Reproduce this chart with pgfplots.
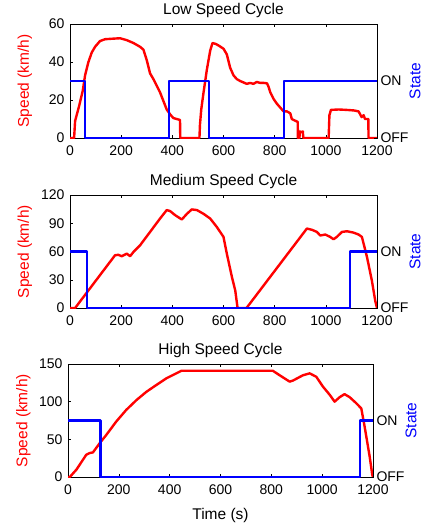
\documentclass[border=0pt]{standalone}
\usepackage{fontspec}
\setmainfont{Liberation Sans}
\usepackage{pgfplots}
\pgfplotsset{compat=1.18}

\definecolor{mred}{rgb}{1,0,0}
\definecolor{mblue}{rgb}{0,0,1}

\pgfplotsset{
  common/.style={
    scale only axis, width=307pt, height=114pt,
    xmin=0, xmax=1200,
    tick align=inside, major tick length=3pt,
    every tick/.style={black, line width=0.5pt},
    axis line style={line width=0.5pt},
    tick label style={font=\fontsize{14}{16}\selectfont},
    /pgf/number format/assume math mode=true,
    /pgf/number format/1000 sep={},
  },
  speed/.style={
    common,
    xtick={0,200,...,1200}, xtick pos=both, ytick pos=left,
    xticklabel style={yshift=-4pt},
    yticklabel style={xshift=-2pt},
    title style={font=\fontsize{15.5}{18}\selectfont, at={(0.5,1)}, anchor=south, yshift=-3pt},
    ylabel={Speed (km/h)},
    ylabel style={font=\fontsize{15.5}{18}\selectfont, color=mred,
      at={(axis description cs:-0.147,0.5)}, anchor=center},
  },
  state/.style={
    common,
    ymin=0, ymax=2,
    axis y line*=right, axis x line=none,
    ytick={0,1}, yticklabels={OFF,ON},
    yticklabel style={xshift=0pt},
    ylabel={State},
    ylabel style={font=\fontsize{15.5}{18}\selectfont, color=mblue,
      at={(axis description cs:1.124,0.5)}, anchor=center},
  },
  red/.style={mred, line width=2.4pt, line join=round},
  blue/.style={mblue, line width=2.2pt, line join=round},
}

\begin{document}
\begin{tikzpicture}
\path[use as bounding box] (0,0) rectangle (423pt,-527pt);

% Low speed cycle
\begin{axis}[speed, at={(70pt,-138pt)}, anchor=south west,
  title={Low Speed Cycle}, ymin=0, ymax=60, ytick={0,20,40,60}]
\addplot[red] coordinates {
(0,0)(16,0)(20,9)(24,11)(36,17)(50,25)(59,33)(72,40)(85,45)(98,48)(117,51)
(137,52)(170,52.3)(196,52.5)(222,51.5)(248,50)(274,48)(287,46.5)(300,41)
(313,34)(326,31)(352,24)(378,15)(391,12.5)(404,10.5)(430,9.5)(431,0)
(506,0)(508,7)(513,15)(522,24)(535,36)(548,46)(557,50)(570,49.5)(583,48.5)
(600,47)(613,44)(626,37)(639,33)(652,31)(665,30)(691,28.5)(704,29)(717,28.5)
(730,29.5)(743,29)(757,29)(770,28.8)(776,27)(783,24)(796,20.5)(809,18)
(822,16)(835,14)(848,14)(861,13)(867,10)(874,9.5)(882,9)(890,8.5)(891,0)
(897,0)(898,3.5)(905,3)(910,3.5)(912,0)
(1011,0)(1014,12)(1020,14.8)(1050,15)(1080,14.8)(1110,14.5)(1128,14)
(1140,11)(1148,12)(1153,10)(1166,10)(1167,0)(1200,0)};
\end{axis}
\begin{axis}[state, at={(70pt,-138pt)}, anchor=south west]
\addplot[blue] coordinates {
(0,1)(59,1)(59,0)(387,0)(387,1)(544,1)(544,0)(835,0)(835,1)(1200,1)};
\end{axis}

% Medium speed cycle
\begin{axis}[speed, at={(70pt,-308pt)}, anchor=south west, height=113pt,
  title={Medium Speed Cycle}, ymin=0, ymax=120, ytick={0,30,60,90,120}]
\addplot[red] coordinates {
(0,0)(20,0)(176,56)(189,56.5)(202,55)(222,57.7)(235,55)(248,59.5)(274,66.6)
(313,80.8)(352,95)(378,104)(391,103)(411,98.6)(437,94)(457,100)(476,104.7)
(496,104)(522,100)(548,95)(574,86)(600,75.5)(613,57.7)(633,32.8)(646,18.5)
(655,0)(690,0)(926,84.4)(946,83)(965,80.8)(978,77)(998,78)(1017,75.5)
(1030,73)(1043,75.5)(1063,80.8)(1083,81.5)(1109,80)(1128,78)(1141,75.5)
(1161,54)(1180,29)(1193,7.8)(1200,0)};
\end{axis}
\begin{axis}[state, at={(70pt,-308pt)}, anchor=south west, height=113pt]
\addplot[blue] coordinates {
(0,1)(65,1)(65,0)(1093,0)(1093,1)(1200,1)};
\end{axis}

% High speed cycle
\begin{axis}[speed, at={(68pt,-477pt)}, anchor=south west, width=305pt, height=113pt,
  title={High Speed Cycle}, ymin=0, ymax=150, ytick={0,50,100,150},
  xlabel={Time (s)},
  xlabel style={font=\fontsize{15.5}{18}\selectfont,
    at={(axis description cs:0.5,0)}, anchor=center, yshift=-38pt},
  ylabel style={at={(axis description cs:-0.146,0.5)}}]
\addplot[red] coordinates {
(0,0)(7,0)(33,9.7)(59,23)(72,29.6)(85,31.8)(98,32.6)(125,45)(151,56)
(190,73.7)(229,89)(269,102)(308,113)(347,122)(387,131)(426,137.6)(446,141)
(806,141)(833,135)(872,126.6)(885,128)(924,135)(951,137.6)(977,133)
(1003,120)(1030,109)(1049,100)(1069,106)(1088,110)(1108,106)(1134,98)
(1154,91)(1167,67)(1187,27)(1197,3)(1200,0)};
\end{axis}
\begin{axis}[state, at={(68pt,-477pt)}, anchor=south west, width=305pt, height=113pt,
  ylabel style={at={(axis description cs:1.125,0.5)}}]
\addplot[blue] coordinates {
(0,1)(128,1)(128,0)(1150,0)(1150,1)(1200,1)};
\end{axis}
\end{tikzpicture}
\end{document}
